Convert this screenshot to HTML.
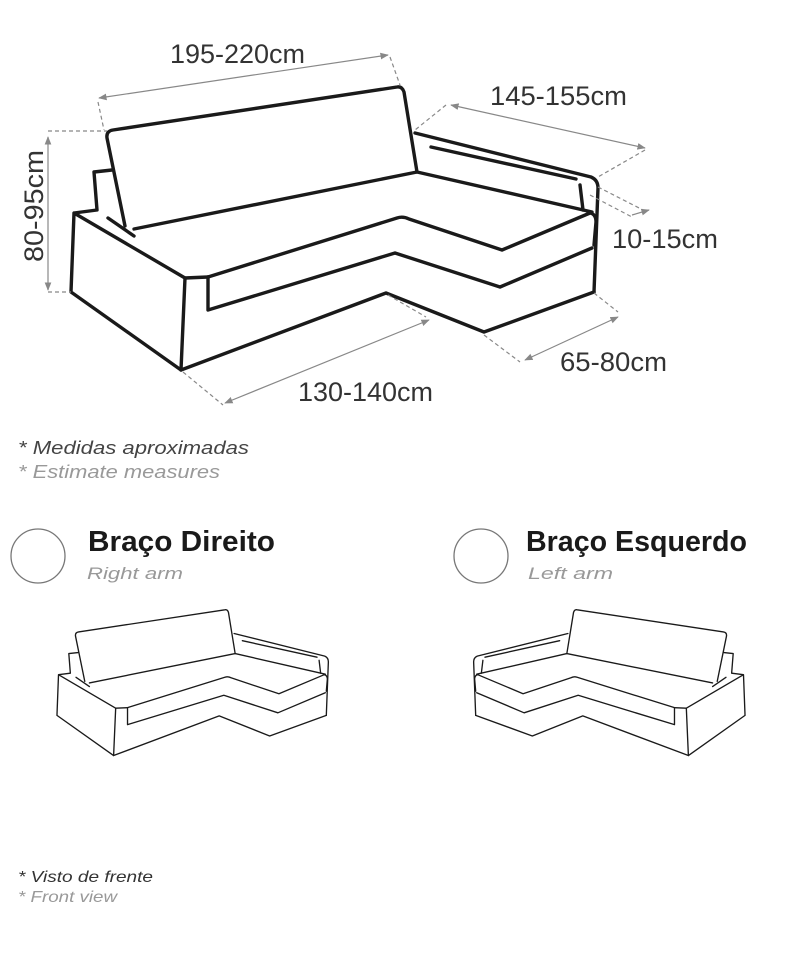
<!DOCTYPE html>
<html><head><meta charset="utf-8"><style>
html,body{margin:0;padding:0;background:#fff;width:793px;height:956px;overflow:hidden}
svg{display:block}
.dim{font-family:"Liberation Sans Narrow","Liberation Sans",sans-serif;font-size:27px;fill:#333}
.it{font-family:"Liberation Sans",sans-serif;font-style:italic}
.b{font-family:"Liberation Sans",sans-serif;font-weight:bold;font-size:29px;fill:#1a1a1a}
</style></head><body>
<svg width="793" height="956" viewBox="0 0 793 956" xmlns="http://www.w3.org/2000/svg">
<defs>
<marker id="ar" viewBox="0 0 10 10" refX="9" refY="5" markerWidth="7" markerHeight="7" orient="auto-start-reverse"><path d="M0,1 L10,5 L0,9 z" fill="#888"/></marker>
<g id="sofa" fill="none" stroke="#1a1a1a" stroke-linejoin="round" stroke-linecap="round">
<path d="M125,226 L107,138 Q106,131 113,130 L397,87 Q402,86 404,92 L417,172"/>
<path d="M134,229 L417,172 L592,212"/>
<path d="M415,133 L591,177 Q598,180 598,188 L594,292"/>
<path d="M431,147 L576,179"/>
<path d="M580,185 L583,210"/>
<path d="M208,277 L397,218 Q403,216 409,219 L502,250 L590,213 Q596,214 596,222 L594,245"/>
<path d="M208,277 L208,310 L395,253 L500,287 L592,248"/>
<path d="M181,370 L386,293 L484,332 L594,292"/>
<path d="M112,170 L94,172 L97,210 L74,213 L71,292 L181,370 L185,278 L74,213"/>
<path d="M185,278 L208,277"/>
<path d="M108,218 L134,236"/>
</g>
</defs>

<use href="#sofa" stroke-width="3.4"/>

<g stroke="#888" stroke-width="1.2" fill="none">
<line x1="99" y1="98" x2="388" y2="55" marker-start="url(#ar)" marker-end="url(#ar)"/>
<line x1="451" y1="105" x2="645" y2="148" marker-start="url(#ar)" marker-end="url(#ar)"/>
<line x1="48" y1="137" x2="48" y2="290" marker-start="url(#ar)" marker-end="url(#ar)"/>
<line x1="525" y1="360" x2="618" y2="317" marker-start="url(#ar)" marker-end="url(#ar)"/>
<line x1="225" y1="403" x2="429" y2="320" marker-start="url(#ar)" marker-end="url(#ar)"/>
<line x1="632" y1="215" x2="649" y2="210" marker-end="url(#ar)"/>
<g stroke-dasharray="4,3">
<path d="M98,102 L104,130"/><path d="M390,57 L400,85"/>
<path d="M446,105 L415,130"/><path d="M645,150 L598,177"/>
<path d="M598,187 L647,212"/><path d="M590,195 L632,217"/>
<path d="M48,131 L107,131"/><path d="M48,292 L71,292"/>
<path d="M594,293 L618,312"/><path d="M484,335 L520,362"/>
<path d="M183,372 L223,405"/><path d="M388,295 L426,317"/>
</g>
</g>

<text class="dim" x="170" y="63" textLength="135" lengthAdjust="spacingAndGlyphs">195-220cm</text>
<text class="dim" x="490" y="105" textLength="137" lengthAdjust="spacingAndGlyphs">145-155cm</text>
<text class="dim" x="612" y="248" textLength="106" lengthAdjust="spacingAndGlyphs">10-15cm</text>
<text class="dim" x="560" y="371" textLength="107" lengthAdjust="spacingAndGlyphs">65-80cm</text>
<text class="dim" x="298" y="401" textLength="135" lengthAdjust="spacingAndGlyphs">130-140cm</text>
<text class="dim" transform="translate(43,262) rotate(-90)" textLength="112" lengthAdjust="spacingAndGlyphs">80-95cm</text>

<text class="it" x="18" y="454" font-size="18" fill="#444" textLength="231" lengthAdjust="spacingAndGlyphs">* Medidas aproximadas</text>
<text class="it" x="18" y="478" font-size="18" fill="#999" textLength="202" lengthAdjust="spacingAndGlyphs">* Estimate measures</text>

<circle cx="38" cy="556" r="27" fill="none" stroke="#777" stroke-width="1.3"/>
<circle cx="481" cy="556" r="27" fill="none" stroke="#777" stroke-width="1.3"/>
<text class="b" x="88" y="551" textLength="187" lengthAdjust="spacingAndGlyphs">Braço Direito</text>
<text class="b" x="526" y="551" textLength="221" lengthAdjust="spacingAndGlyphs">Braço Esquerdo</text>
<text class="it" x="87" y="579" font-size="17" fill="#999" textLength="96" lengthAdjust="spacingAndGlyphs">Right arm</text>
<text class="it" x="528" y="579" font-size="17" fill="#999" textLength="85" lengthAdjust="spacingAndGlyphs">Left arm</text>

<use href="#sofa" stroke-width="2.6" transform="translate(20.4,565) scale(0.515)"/>
<use href="#sofa" stroke-width="2.6" transform="translate(781.6,565) scale(-0.515,0.515)"/>

<text class="it" x="18" y="882" font-size="16" fill="#333" textLength="135" lengthAdjust="spacingAndGlyphs">* Visto de frente</text>
<text class="it" x="18" y="902" font-size="16" fill="#999" textLength="99" lengthAdjust="spacingAndGlyphs">* Front view</text>
</svg>
</body></html>
